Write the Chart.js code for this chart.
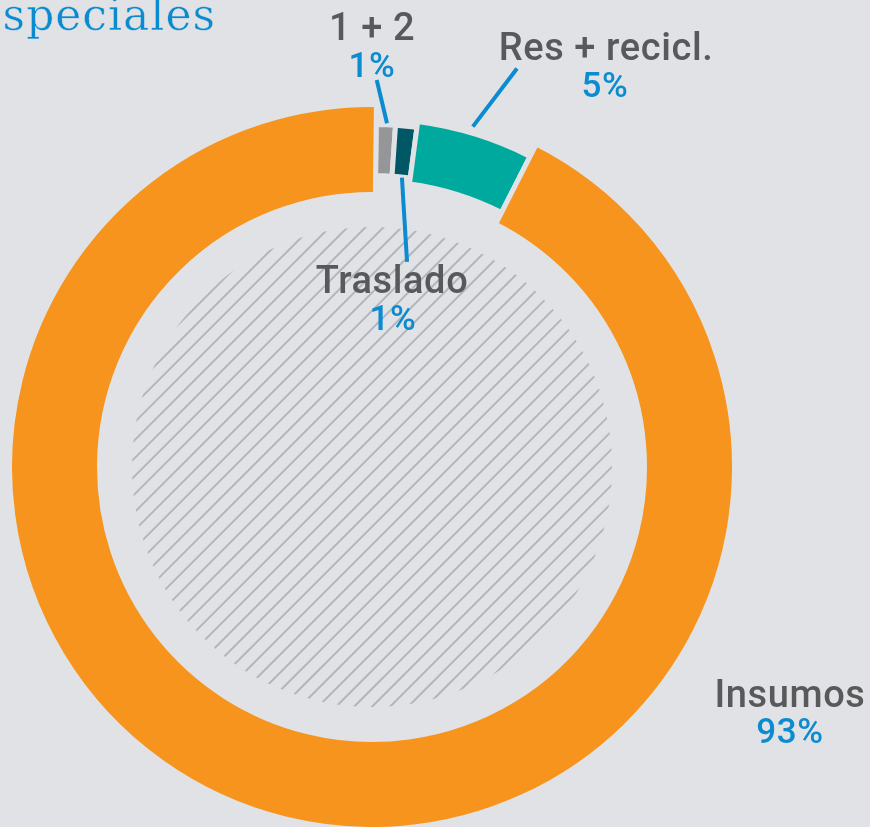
<!DOCTYPE html>
<html>
<head>
<meta charset="utf-8">
<script src="https://cdn.jsdelivr.net/npm/chart.js@4/dist/chart.umd.min.js"></script>
<style>
  html, body { margin: 0; padding: 0; background: #e1e2e6; }
  #wrap { position: relative; width: 870px; height: 827px; overflow: hidden; }
  #title { position: absolute; right: 654px; top: -11px; white-space: nowrap;
           font-family: "DejaVu Serif", serif; font-weight: 300; font-size: 44px;
           line-height: normal; color: #0a8bd0; letter-spacing: 1px;
           -webkit-text-stroke: 0.45px #e1e2e6; }
  canvas { position: absolute; left: 0; top: 0; }
</style>
</head>
<body>
<div id="wrap">
  <canvas id="c" width="870" height="827"></canvas>
  <div id="title">Especiales</div>
</div>
<script>
// ---- data ----
const categories = ["1 + 2", "Traslado", "Res + recicl.", "Insumos"];
const values = [0.9, 1.0, 5.4, 92.7];
const percentLabels = ["1%", "1%", "5%", "93%"];

// ---- styles ----
const colors = ["#949698", "#005866", "#00a99d", "#f7941d"];
const BG = "#e1e2e6";
const BLUE = "#0b8bd0";
const GREY_TXT = "#58595b";
const BW = 5;
// ring band (inner, outer) as fraction of main outer radius
const bandInner = [294/360, 294/360, 288/360, 275/360];
const bandOuter = [340/360, 340/360, 346/360, 1];

// label layout, offsets relative to chart centre (px)
const labelLayout = [
  { name: [0, -427], pct: [0, -390], leader: [[0.7, 387], [2.5, 344]] },
  { name: [20, -174], pct: [21, -137], leader: [[5.9, 291], [9.7, 208]] },
  { name: [234, -407], pct: [233, -370], leader: [[20.0, 424], [16.5, 355]] },
  { name: [418, 240], pct: [418, 276], leader: null }
];

const bandPlugin = {
  id: 'bands',
  afterDatasetUpdate(chart, args) {
    const meta = args.meta;
    const ctrl = meta.controller;
    const R = ctrl.outerRadius;
    meta.data.forEach((el, i) => {
      el.outerRadius = R * bandOuter[i] + BW / 2;
      el.innerRadius = R * bandInner[i] - BW / 2;
    });
  }
};

const hatchPlugin = {
  id: 'hatch',
  beforeDatasetsDraw(chart) {
    const meta = chart.getDatasetMeta(0);
    const el = meta.data[0];
    const R = meta.controller.outerRadius;
    const cx = el.x, cy = el.y, r = R * 0.667;
    const ctx = chart.ctx;
    ctx.save();
    ctx.beginPath();
    ctx.arc(cx, cy, r, 0, Math.PI * 2);
    ctx.clip();
    ctx.strokeStyle = "#b1b6be";
    ctx.lineWidth = 2;
    const step = 18;
    for (let c = -2 * r; c <= 2 * r; c += step) {
      ctx.beginPath();
      ctx.moveTo(cx - r, cy + c + r);
      ctx.lineTo(cx + r, cy + c - r);
      ctx.stroke();
    }
    ctx.restore();
  }
};

const labelPlugin = {
  id: 'labels',
  afterDatasetsDraw(chart) {
    const meta = chart.getDatasetMeta(0);
    const el = meta.data[0];
    const cx = el.x, cy = el.y;
    const ctx = chart.ctx;
    ctx.save();
    ctx.textAlign = 'center';
    ctx.textBaseline = 'alphabetic';
    labelLayout.forEach((L, i) => {
      if (L.leader) {
        ctx.strokeStyle = BLUE;
        ctx.lineWidth = 4;
        ctx.beginPath();
        L.leader.forEach((p, k) => {
          const a = p[0] * Math.PI / 180;
          const x = cx + Math.sin(a) * p[1];
          const y = cy - Math.cos(a) * p[1];
          if (k === 0) ctx.moveTo(x, y); else ctx.lineTo(x, y);
        });
        ctx.stroke();
      }
      ctx.letterSpacing = '0.6px';
      ctx.fillStyle = GREY_TXT;
      ctx.font = '500 38px Roboto';
      ctx.fillText(categories[i], cx + L.name[0], cy + L.name[1]);
      ctx.fillStyle = BLUE;
      ctx.font = '500 35px Roboto';
      ctx.fillText(percentLabels[i], cx + L.pct[0], cy + L.pct[1]);
    });
    ctx.restore();
  }
};

new Chart(document.getElementById('c'), {
  type: 'doughnut',
  data: {
    labels: categories,
    datasets: [{
      data: values,
      backgroundColor: colors,
      borderColor: BG,
      borderWidth: BW,
      hoverOffset: 0
    }]
  },
  options: {
    responsive: false,
    animation: false,
    rotation: 0.7,
    radius: 360,
    cutout: '76%',
    layout: { padding: { left: 12, right: 138, top: 107, bottom: 0 } },
    plugins: {
      legend: { display: false },
      tooltip: { enabled: false },
      title: { display: false }
    },
    events: []
  },
  plugins: [bandPlugin, hatchPlugin, labelPlugin]
});
</script>
</body>
</html>
